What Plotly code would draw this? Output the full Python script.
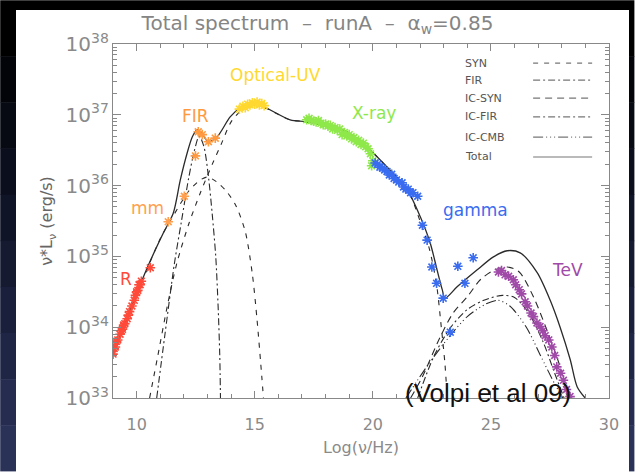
import plotly.graph_objects as go

# ---------------- data (log10 nu [Hz], log10 nuL_nu [erg/s]) ----------------
syn_radio_x = [9.0, 10.0, 11.0, 11.6, 12.2, 12.7, 13.0, 13.4, 13.8, 14.2, 14.6, 14.9, 15.1, 15.3, 15.37]
syn_radio_y = [33.62, 34.45, 35.25, 35.6, 35.92, 36.08, 36.12, 36.05, 35.92, 35.72, 35.35, 34.75, 34.1, 33.3, 33.0]

syn_wind_x = [10.55, 10.9, 11.3, 11.7, 12.2, 12.7, 13.2, 13.6, 14.0, 14.5, 15.0, 16.5, 17.2, 18.9, 19.9, 20.6, 21.5, 22.0, 22.4, 22.7, 22.9, 23.05, 23.15]
syn_wind_y = [33.0, 33.6, 34.3, 34.9, 35.45, 35.9, 36.3, 36.6, 36.9, 37.08, 37.15, 36.93, 36.9, 36.76, 36.5, 36.26, 35.92, 35.5, 35.1, 34.6, 34.0, 33.5, 33.0]

fir_x = [10.85, 11.2, 11.6, 11.9, 12.2, 12.45, 12.65, 12.85, 13.05, 13.2, 13.35, 13.45, 13.52, 13.55]
fir_y = [33.0, 33.9, 34.9, 35.5, 36.1, 36.5, 36.7, 36.55, 36.1, 35.6, 35.0, 34.3, 33.6, 33.0]

icsyn_x = [21.6, 22.1, 22.85, 23.4, 24.0, 24.55, 25.1, 25.7, 26.2, 26.8, 27.37, 27.93, 28.2, 28.25]
icsyn_y = [33.0, 33.3, 33.86, 34.2, 34.43, 34.67, 34.8, 34.85, 34.78, 34.43, 33.96, 33.44, 33.07, 33.0]

icfir_x = [21.9, 22.6, 23.3, 24.0, 24.7, 25.5, 26.0, 26.6, 27.2, 27.7, 28.1]
icfir_y = [33.0, 33.6, 34.0, 34.25, 34.38, 34.45, 34.42, 34.2, 33.8, 33.35, 33.0]

iccmb_x = [21.4, 22.3, 23.2, 24.0, 24.8, 25.3, 25.8, 26.5, 27.1, 27.7, 28.05]
iccmb_y = [33.0, 33.45, 33.85, 34.15, 34.33, 34.38, 34.3, 34.0, 33.6, 33.2, 33.0]

total_x = [9.0, 10.45, 11.13, 11.55, 11.85, 12.14, 12.36, 12.57, 12.8, 13.03, 13.41, 13.96, 14.39, 14.94,
           16.5, 17.22, 18.91, 19.89, 20.61, 21.46, 22.01, 22.43, 22.72, 22.94, 23.06, 23.57, 24.42,
           25.09, 25.69, 26.24, 26.96, 27.51, 27.93, 28.36, 28.65, 28.99]
total_y = [33.63, 34.84, 35.33, 35.61, 36.08, 36.46, 36.69, 36.79, 36.72, 36.62, 36.69, 36.97, 37.10, 37.17,
           36.93, 36.90, 36.76, 36.50, 36.26, 35.94, 35.56, 35.19, 34.81, 34.53, 34.41, 34.57, 34.81,
           34.99, 35.08, 35.05, 34.77, 34.38, 34.00, 33.54, 33.16, 33.0]

r_x = [9.0, 9.05, 9.1, 9.15, 9.2, 9.3, 9.35, 9.4, 9.45, 9.5, 9.6, 9.65, 9.7, 9.8, 9.9, 9.95, 10.0, 10.05, 10.1, 10.15, 10.2, 10.58]
r_y = [33.62, 33.7, 33.72, 33.8, 33.82, 33.9, 33.95, 33.97, 34.03, 34.05, 34.12, 34.17, 34.22, 34.3, 34.38, 34.45, 34.5, 34.52, 34.6, 34.6, 34.65, 34.84]

mm_x = [11.34, 12.02]
mm_y = [35.49, 35.85]

firpts_x = [12.49, 12.61, 12.78, 13.04, 13.33]
firpts_y = [36.42, 36.76, 36.72, 36.62, 36.67]

opt_x = [14.35, 14.5, 14.6, 14.7, 14.8, 14.9, 15.0, 15.1, 15.2, 15.3, 15.4]
opt_y = [37.08, 37.12, 37.1, 37.15, 37.14, 37.17, 37.15, 37.18, 37.14, 37.16, 37.13]

xray_x = [17.2, 17.3, 17.4, 17.5, 17.6, 17.7, 17.8, 17.9, 18.0, 18.1, 18.2, 18.3, 18.4, 18.5, 18.6,
          18.7, 18.8, 18.9, 19.0, 19.1, 19.2, 19.3, 19.4, 19.5, 19.6, 19.7, 19.8, 19.9, 20.0, 19.95]
xray_y = [36.93, 36.95, 36.92, 36.91, 36.90, 36.92, 36.88, 36.86, 36.87, 36.84, 36.85, 36.80, 36.82, 36.78, 36.80,
          36.72, 36.75, 36.70, 36.72, 36.66, 36.68, 36.62, 36.64, 36.58, 36.60, 36.55, 36.52, 36.45, 36.35, 36.28]

gam_x = [20.1, 20.2, 20.3, 20.4, 20.5, 20.6, 20.7, 20.8, 20.9, 21.0, 21.1, 21.24, 21.3, 21.4, 21.5, 21.6, 21.7,
         21.9, 22.1, 22.3, 22.5, 22.7, 22.98, 23.28, 23.6, 23.9, 24.25]
gam_y = [36.32, 36.3, 36.26, 36.25, 36.22, 36.2, 36.15, 36.16, 36.1, 36.08, 36.05, 36.04, 35.98, 35.95, 35.95, 35.9, 35.9,
         35.85, 35.44, 35.23, 34.85, 34.62, 34.41, 33.93, 34.86, 34.62, 34.98]

tev_x = [25.32, 25.45, 25.6, 25.75, 25.95, 26.05, 26.2, 26.3, 26.45, 26.55, 26.7, 26.8, 26.95, 27.08, 27.2,
         27.3, 27.45, 27.58, 27.7, 27.79, 27.95, 28.07, 28.2, 28.35]
tev_y = [34.78, 34.8, 34.74, 34.72, 34.67, 34.6, 34.53, 34.47, 34.36, 34.3, 34.2, 34.15, 34.06, 34.01, 33.95,
         33.88, 33.82, 33.72, 33.6, 33.44, 33.35, 33.25, 33.12, 33.02]

band_labels = ["R", "mm", "FIR", "Optical-UV", "X-ray", "gamma", "TeV"]
band_label_x = [9.56, 10.47, 12.49, 15.86, 20.06, 24.33, 28.23]
band_label_y = [34.68, 35.68, 36.98, 37.56, 37.03, 35.66, 34.81]
band_colors = ["#ff4a3a", "#ffa050", "#ff9a40", "#ffd830", "#8ee84a", "#3a6cf0", "#a04aa8"]

legend_names = ["SYN", "FIR", "IC-SYN", "IC-FIR", "IC-CMB", "Total"]

xticks = [10, 15, 20, 25, 30]

# ---------------- styles ----------------
LINE_C = "#2a2a2a"
DASH_SYN = "5px,6px"
DASH_FIR = "7px,3px,2px,3px"
DASH_ICSYN = "7px,5px"
DASH_ICFIR = "7px,3px,2px,3px"
DASH_ICCMB = "10px,3px,1px,3px,1px,3px,1px,3px"
legend_dash = [DASH_SYN, DASH_FIR, DASH_ICSYN, DASH_ICFIR, DASH_ICCMB, "solid"]


def pw(v):
    return [10 ** a for a in v]


fig = go.Figure()

def curve(x, y, dash, width=1.1):
    fig.add_trace(go.Scatter(x=x, y=pw(y), mode="lines", line=dict(color=LINE_C, width=width, dash=dash, shape="spline", smoothing=0.8),
                             showlegend=False, hoverinfo="skip"))

curve(syn_radio_x, syn_radio_y, DASH_SYN)
curve(syn_wind_x, syn_wind_y, DASH_SYN)
curve(fir_x, fir_y, DASH_FIR)
curve(icsyn_x, icsyn_y, DASH_ICSYN)
curve(icfir_x, icfir_y, DASH_ICFIR)
curve(iccmb_x, iccmb_y, DASH_ICCMB)
curve(total_x, total_y, "solid", 1.3)

def pts(x, y, color):
    fig.add_trace(go.Scatter(x=x, y=pw(y), mode="markers",
                             marker=dict(symbol="asterisk-open", size=8, color=color, line=dict(color=color, width=1.6)),
                             showlegend=False, hoverinfo="skip"))

pts(r_x, r_y, band_colors[0])
pts(mm_x, mm_y, band_colors[1])
pts(firpts_x, firpts_y, band_colors[2])
pts(opt_x, opt_y, band_colors[3])
pts(xray_x, xray_y, band_colors[4])
pts(gam_x, gam_y, band_colors[5])
pts(tev_x, tev_y, band_colors[6])

annotations = []
for t, x, y, c in zip(band_labels, band_label_x, band_label_y, band_colors):
    annotations.append(dict(x=x, y=y, xref="x", yref="y", text=t, showarrow=False,
                            font=dict(family="DejaVu Sans", size=17, color=c)))

annotations.append(dict(x=24.88, y=33.07, xref="x", yref="y", text="(Volpi et al 09)", showarrow=False,
                        font=dict(family="Liberation Sans", size=26, color="#111111")))

# legend (text left, line sample right)
shapes = []
leg_y = [0.946, 0.898, 0.847, 0.794, 0.737, 0.681]
for name, d, yy in zip(legend_names, legend_dash, leg_y):
    annotations.append(dict(x=0.706, y=yy, xref="x domain", yref="y domain", text=name, showarrow=False,
                            xanchor="left", yanchor="middle", font=dict(family="DejaVu Sans", size=11, color="#555555")))
    shapes.append(dict(type="line", xref="x domain", yref="y domain", x0=0.847, x1=0.966, y0=yy, y1=yy,
                       line=dict(color="#777777", width=1.1, dash=d)))

# dark slide frame (kept strictly inside the 635x472 figure)
W, H, ML, MB, PW_, PH_ = 635, 472, 113, 74, 496, 354
EDGE_R, EDGE_B = W - 0.6, H - 0.6
def px_to_paper_x(px):
    return (px - ML) / PW_
def py_to_paper_y(py):
    return (H - MB - py) / PH_

grad = ["#000000", "#03040a", "#070913", "#0b0e1d", "#101427", "#151a31", "#1a203b", "#1f2645", "#252c4f", "#2a3258"]
n = len(grad)
for i, c in enumerate(grad):
    y_top = 10 + (EDGE_B - 10) * i / n
    y_bot = min(EDGE_B, 10 + (EDGE_B - 10) * (i + 1) / n + 0.5)
    shapes.append(dict(type="rect", xref="paper", yref="paper", x0=px_to_paper_x(0.2), x1=px_to_paper_x(16),
                       y0=py_to_paper_y(y_bot), y1=py_to_paper_y(y_top), fillcolor=c, line=dict(width=0), layer="below"))
    shapes.append(dict(type="rect", xref="paper", yref="paper", x0=px_to_paper_x(629), x1=px_to_paper_x(EDGE_R),
                       y0=py_to_paper_y(y_bot), y1=py_to_paper_y(y_top), fillcolor=c, line=dict(width=0), layer="below"))
shapes.append(dict(type="rect", xref="paper", yref="paper", x0=px_to_paper_x(0.2), x1=px_to_paper_x(EDGE_R),
                   y0=py_to_paper_y(10), y1=py_to_paper_y(0.2), fillcolor="#000000", line=dict(width=0), layer="below"))
# keep the white slide visible down to the bottom edge
shapes.append(dict(type="rect", xref="paper", yref="paper", x0=px_to_paper_x(16), x1=px_to_paper_x(629),
                   y0=py_to_paper_y(EDGE_B), y1=py_to_paper_y(458), fillcolor="white", line=dict(width=0), layer="above"))

axis_font = dict(family="DejaVu Sans", size=16, color="#8a8a8a")

fig.update_layout(
    width=W, height=H,
    margin=dict(l=ML, r=W - ML - PW_, t=44, b=MB, autoexpand=False),
    paper_bgcolor="white",
    plot_bgcolor="white",
    showlegend=False,
    title=dict(text="Total spectrum  –  runA  –  α<sub>w</sub>=0.85", x=0.5, xref="container", xanchor="center",
               y=1 - 23 / 472, yref="container", yanchor="middle",
               font=dict(family="DejaVu Sans", size=20, color="#858585")),
    xaxis=dict(range=[9, 30], tickvals=xticks, ticktext=[str(v) for v in xticks], ticks="inside", ticklen=7,
               tickcolor="#888888", showline=True, linecolor="#888888", linewidth=1, mirror="ticks",
               showgrid=False, zeroline=False, tickfont=axis_font, ticklabelstandoff=12, automargin=False,
               minor=dict(dtick=1, tick0=9, ticks="inside", ticklen=4, tickcolor="#888888", showgrid=False),
               title=dict(text="Log(ν/Hz)", font=dict(family="DejaVu Sans", size=16, color="#8a8a8a"), standoff=8)),
    yaxis=dict(type="log", range=[33, 38], dtick=1, exponentformat="power", showexponent="all",
               ticks="inside", ticklen=8, tickcolor="#888888", showline=True, linecolor="#888888", linewidth=1,
               mirror="ticks", showgrid=False, zeroline=False, tickfont=axis_font, automargin=False,
               minor=dict(dtick="D1", ticks="inside", ticklen=4, tickcolor="#888888", showgrid=False),
               title=dict(text="ν*L<sub>ν</sub> (erg/s)", font=dict(family="DejaVu Sans", size=16, color="#666666"), standoff=8)),
    annotations=annotations,
    shapes=shapes,
)

fig.write_html("out.html")
